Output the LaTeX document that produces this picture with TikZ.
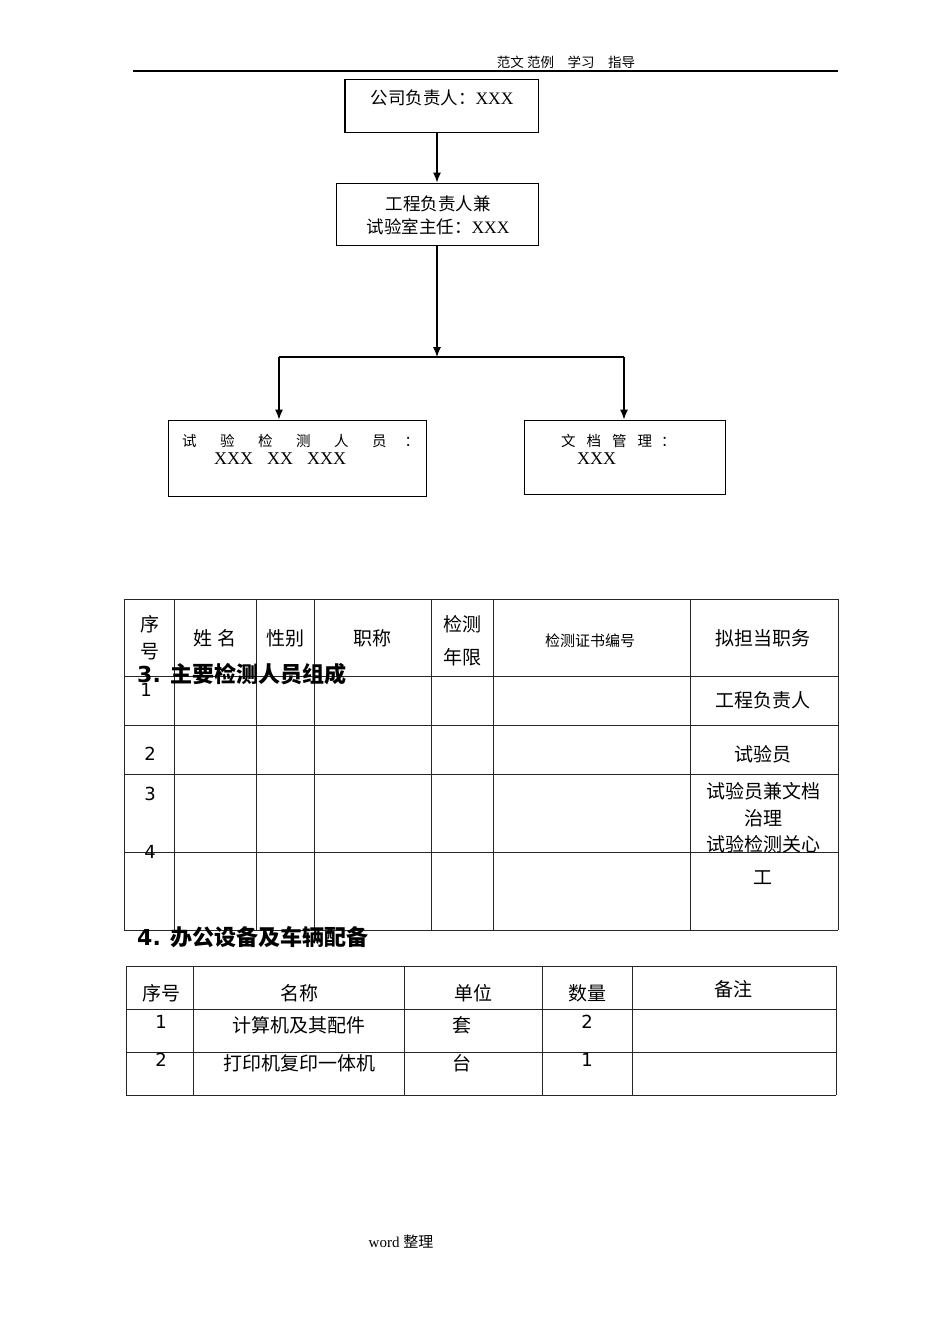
\documentclass[tikz,border=0pt]{standalone}
\usepackage{fontspec}
\setmainfont{Liberation Serif}
\newfontfamily\cjk{Noto Sans CJK SC}
\newfontfamily\dvs{DejaVu Sans}
\usetikzlibrary{arrows.meta}
\tikzset{
  box/.style={draw,line width=1pt,inner sep=0pt},
  arr/.style={line width=1.1pt,-{Latex[length=10pt,width=8pt]}},
  conn/.style={line width=1.1pt},
  grid/.style={line width=0.9pt,black!85},
  bt/.style={inner sep=0pt,font=\cjk\fontsize{17.5}{20}\selectfont},
  tt/.style={inner sep=0pt,font=\cjk\fontsize{19}{22}\selectfont},
  dt/.style={inner sep=0pt,font=\dvs\fontsize{18}{22}\selectfont},
  hd/.style={inner sep=0pt,anchor=west,font=\cjk\bfseries\fontsize{22}{25}\selectfont}
}
\begin{document}
\begin{tikzpicture}[x=1pt,y=-1pt]
\useasboundingbox[fill=white] (0,0) rectangle (950,1344);
% header
\node[inner sep=0pt,font=\cjk\fontsize{13.5}{15}\selectfont] (head) at (566,62.5) {范文\ 范例\quad 学习\quad 指导};
\draw[line width=1.6pt] (133,71) -- (838,71);
% boxes
\node[box,minimum width=193pt,minimum height=53pt] (b1) at (441.5,105.5) {};
\draw[line width=1.8pt] (b1.south west) -- (b1.north west);
\node[box,minimum width=202pt,minimum height=62pt] (b2) at (437,214) {};
\draw[line width=1.8pt] (b2.south west) -- (b2.south east);
\node[box,minimum width=258pt,minimum height=76pt] (b3) at (297,458) {};
\node[box,minimum width=201pt,minimum height=74pt] (b4) at (624.5,457) {};
\draw[line width=1.8pt] (b4.south west) -- (b4.south east);
% box texts
\node[bt] (t1) at (442,98) {公司负责人：\rmfamily XXX};
\node[bt] (t2a) at (438,204) {工程负责人兼};
\node[bt] (t2b) at (438,227) {试验室主任：\rmfamily XXX};
\node[bt,anchor=west,font=\cjk\fontsize{14.5}{16}\selectfont] (t3a) at (182,441) {试\hspace{23.5pt}验\hspace{23.5pt}检\hspace{23.5pt}测\hspace{23.5pt}人\hspace{23.5pt}员\hspace{18pt}：};
\node[inner sep=0pt,anchor=west,font=\rmfamily\fontsize{18}{20}\selectfont] (t3b) at (214,459) {XXX\hspace{14pt}XX\hspace{14pt}XXX};
\node[bt,anchor=west,font=\cjk\fontsize{14.5}{16}\selectfont] (t4a) at (561,441) {文\hspace{11pt}档\hspace{11pt}管\hspace{11pt}理\hspace{9pt}：};
\node[inner sep=0pt,anchor=west,font=\rmfamily\fontsize{18}{20}\selectfont] (t4b) at (577,459) {XXX};
% connectors
\coordinate (j) at (437,357);
\coordinate (jl) at (279,357);
\coordinate (jr) at (624,357);
\draw[arr] (b1.south -| 437,0) -- (b2.north -| 437,0);
\draw[arr] (b2.south -| 437,0) -- (j);
\draw[conn] (jl) -- (jr);
\draw[arr] (jl) -- (b3.north -| jl);
\draw[arr] (jr) -- (b4.north -| jr);
% table 1
\foreach \x in {124,174,256,314,431,493,690,838} \draw[grid] (\x,599) -- (\x,930);
\foreach \y in {599,676,725,774,852,930} \draw[grid] (124,\y) -- (838,\y);
\node[tt] (h1a) at (150,624) {序};
\node[tt] (h1b) at (150,652) {号};
\node[tt] (h2) at (215,638) {姓\ 名};
\node[tt] (h3) at (285,638) {性别};
\node[tt] (h4) at (372,638) {职称};
\node[tt] (h5a) at (462,624) {检测};
\node[tt] (h5b) at (462,657) {年限};
\node[tt,font=\cjk\fontsize{15}{18}\selectfont] (h6) at (590,641) {检测证书编号};
\node[tt] (h7) at (763,638) {拟担当职务};
\node[hd] (sec3) at (137,674) {\dvs\bfseries 3.\ }; 
\node[hd] (sec3b) at (170,674) {主要检测人员组成};
\node[dt] (r1) at (146,690) {1};
\node[tt] (r1p) at (763,700) {工程负责人};
\node[dt] (r2) at (150,754) {2};
\node[tt] (r2p) at (763,754) {试验员};
\node[dt] (r3) at (150,794) {3};
\node[tt] (r3p) at (763,791) {试验员兼文档};
\node[tt] (r3q) at (763,818) {治理};
\node[tt] (r3r) at (763,844) {试验检测关心};
\node[dt] (r4) at (150,852) {4};
\node[tt] (r4p) at (763,878) {工};
\node[hd] (sec4) at (137,937) {\dvs\bfseries 4.\ };
\node[hd] (sec4b) at (170,937) {办公设备及车辆配备};
% table 2
\foreach \x in {126,193,404,542,632,836} \draw[grid] (\x,966) -- (\x,1095);
\foreach \y in {966,1009,1052,1095} \draw[grid] (126,\y) -- (836,\y);
\node[tt] (e1) at (161,993) {序号};
\node[tt] (e2) at (299,993) {名称};
\node[tt] (e3) at (473,993) {单位};
\node[tt] (e4) at (587,993) {数量};
\node[tt] (e5) at (733,989) {备注};
\node[dt] (f1) at (161,1022) {1};
\node[tt] (f2) at (299,1025) {计算机及其配件};
\node[tt] (f3) at (462,1025) {套};
\node[dt] (f4) at (587,1022) {2};
\node[dt] (g1) at (161,1060) {2};
\node[tt] (g2) at (299,1063) {打印机复印一体机};
\node[tt] (g3) at (462,1063) {台};
\node[dt] (g4) at (587,1060) {1};
% footer
\node[inner sep=0pt,font=\fontsize{15}{17}\selectfont] (foot) at (401,1242) {word \cjk 整理};
\end{tikzpicture}
\end{document}
